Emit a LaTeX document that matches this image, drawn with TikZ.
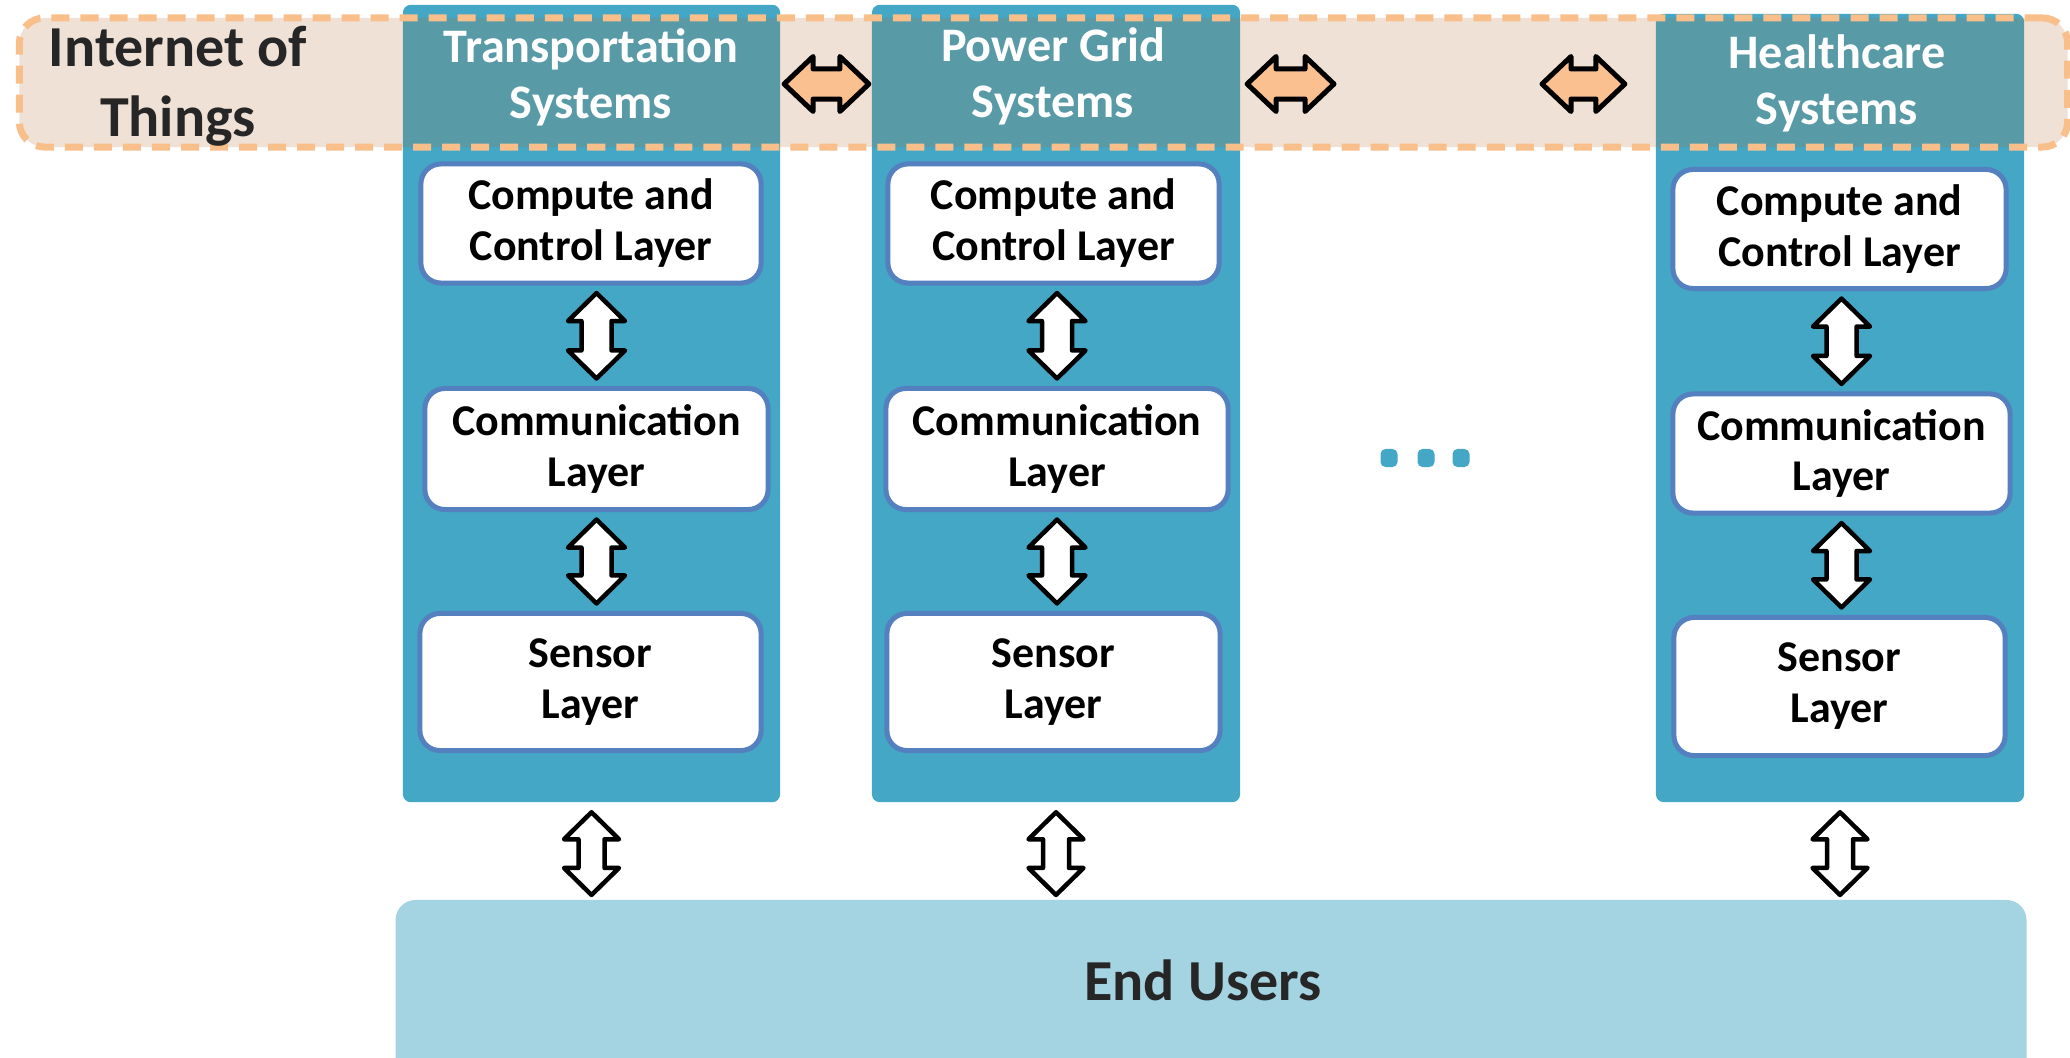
\documentclass[tikz,border=0pt]{standalone}
\usepackage{fontspec}
\setmainfont{Carlito}
\usetikzlibrary{calc}
\definecolor{colblue}{RGB}{67,167,197}
\definecolor{bandtint}{RGB}{175,105,45}
\definecolor{bandline}{RGB}{249,191,139}
\definecolor{boxline}{RGB}{84,128,192}
\definecolor{userfill}{RGB}{164,211,225}
\definecolor{arroworange}{RGB}{250,192,143}
\definecolor{darktext}{RGB}{38,38,38}
\tikzset{
  column/.style={fill=colblue, rounded corners=0.08cm, inner sep=0pt, outer sep=0pt},
  iotband/.style={fill=bandtint, fill opacity=0.2, draw=bandline, draw opacity=1,
    line width=0.07cm, dash pattern=on 0.18cm off 0.11cm, rounded corners=0.25cm,
    inner sep=0pt, outer sep=0pt},
  layerbox/.style={fill=white, draw=boxline, line width=0.05cm, rounded corners=0.2cm,
    inner sep=0pt, outer sep=0pt, align=center, text=black,
    font=\fontsize{12.5}{14.5}\selectfont\bfseries},
  header/.style={text=white, align=center, inner sep=0pt,
    font=\fontsize{13.7}{15.9}\selectfont\bfseries},
  iottext/.style={text=darktext, align=center, inner sep=0pt,
    font=\fontsize{16.5}{19.9}\selectfont\bfseries},
  users/.style={fill=userfill, rounded corners=0.2cm, inner sep=0pt, outer sep=0pt,
    text=darktext, font=\fontsize{16.5}{19.9}\selectfont\bfseries,
    text height=0.21cm, text depth=0cm},
  whitearrow/.style={fill=white, draw=black, line width=0.045cm, line join=round},
  orangearrow/.style={fill=arroworange, draw=black, line width=0.05cm, line join=round},
  dotmark/.style={fill=colblue, rounded corners=0.05cm, inner sep=0pt,
    minimum width=0.17cm, minimum height=0.18cm},
}
% vertical double block arrow: style, x-reference, top tip, bottom tip, half width, half shaft, head length
\newcommand\vdarrow[7]{%
  \draw[#1] let \p1=#2, \p2=#3, \p3=#4 in
    (\x1,\y2) -- (\x1+#5,\y2-#7) -- (\x1+#6,\y2-#7) -- (\x1+#6,\y3+#7) --
    (\x1+#5,\y3+#7) -- (\x1,\y3) -- (\x1-#5,\y3+#7) -- (\x1-#6,\y3+#7) --
    (\x1-#6,\y2-#7) -- (\x1-#5,\y2-#7) -- cycle;}
% horizontal double block arrow: style, y-reference, left tip, right tip, half height, half shaft, head length
\newcommand\hdarrow[7]{%
  \draw[#1] let \p1=#2, \p2=#3, \p3=#4 in
    (\x2,\y1) -- (\x2+#7,\y1+#5) -- (\x2+#7,\y1+#6) -- (\x3-#7,\y1+#6) --
    (\x3-#7,\y1+#5) -- (\x3,\y1) -- (\x3-#7,\y1-#5) -- (\x3-#7,\y1-#6) --
    (\x2+#7,\y1-#6) -- (\x2+#7,\y1-#5) -- cycle;}
\begin{document}
\begin{tikzpicture}[x=0.01cm, y=-0.01cm]
\useasboundingbox (0,0) rectangle (2070,1058);
\clip (0,0) rectangle (2070,1058);

% columns
\node[column, minimum width=3.77cm, minimum height=7.97cm] (col1) at (591.5,403.5) {};
\node[column, minimum width=3.68cm, minimum height=7.97cm] (col2) at (1056,403.5) {};
\node[column, minimum width=3.68cm, minimum height=7.88cm] (col3) at (1840,408) {};

% IoT band
\node[iotband, minimum width=20.47cm, minimum height=1.29cm] (band) at (1043.5,82.5) {};
\node[iottext] (iot) at (178,86) {Internet of\\Things};

% headers
\node[header] (h1) at (591,77) {Transportation\\Systems};
\node[header] (h2) at (1053,76) {Power Grid\\Systems};
\node[header] (h3) at (1837,83) {Healthcare\\Systems};

% layer boxes
\node[layerbox, minimum width=3.40cm, minimum height=1.19cm] (c1a) at (591,223.5) {Compute and\\Control Layer};
\node[layerbox, minimum width=3.43cm, minimum height=1.21cm] (c1b) at (596.5,449) {Communication\\Layer};
\node[layerbox, minimum width=3.41cm, minimum height=1.37cm] (c1c) at (590.5,682) {Sensor\\Layer};

\node[layerbox, minimum width=3.31cm, minimum height=1.19cm] (c2a) at (1053.5,223.5) {Compute and\\Control Layer};
\node[layerbox, minimum width=3.42cm, minimum height=1.21cm] (c2b) at (1057,449) {Communication\\Layer};
\node[layerbox, minimum width=3.33cm, minimum height=1.37cm] (c2c) at (1053.5,682) {Sensor\\Layer};

\node[layerbox, minimum width=3.33cm, minimum height=1.19cm] (c3a) at (1839.5,229) {Compute and\\Control Layer};
\node[layerbox, minimum width=3.37cm, minimum height=1.19cm] (c3b) at (1841.5,453.5) {Communication\\Layer};
\node[layerbox, minimum width=3.31cm, minimum height=1.38cm] (c3c) at (1839.5,686.5) {Sensor\\Layer};

% end users
\node[users, minimum width=16.30cm, minimum height=1.80cm] (users) at (1211,990) {End Users\hspace*{0.16cm}};

% dots
\node[dotmark] (d1) at (1389,458) {};
\node[dotmark] (d2) at (1426,458) {};
\node[dotmark] (d3) at (1461,458) {};

% free ends of the orange arrows beside the dots
\coordinate (gapL) at (1334,84);
\coordinate (gapR) at (1542,84);

% arrows inside the columns
\vdarrow{whitearrow}{(c1b.center)}{([yshift=-0.1cm]c1a.south)}{([yshift=0.1cm]c1b.north)}{0.285cm}{0.15cm}{0.28cm}
\vdarrow{whitearrow}{(c1b.center)}{([yshift=-0.1cm]c1b.south)}{([yshift=0.1cm]c1c.north)}{0.285cm}{0.15cm}{0.28cm}
\vdarrow{whitearrow}{(c2b.center)}{([yshift=-0.1cm]c2a.south)}{([yshift=0.1cm]c2b.north)}{0.285cm}{0.15cm}{0.28cm}
\vdarrow{whitearrow}{(c2b.center)}{([yshift=-0.1cm]c2b.south)}{([yshift=0.1cm]c2c.north)}{0.285cm}{0.15cm}{0.28cm}
\vdarrow{whitearrow}{(c3b.center)}{([yshift=-0.1cm]c3a.south)}{([yshift=0.1cm]c3b.north)}{0.285cm}{0.15cm}{0.28cm}
\vdarrow{whitearrow}{(c3b.center)}{([yshift=-0.1cm]c3b.south)}{([yshift=0.1cm]c3c.north)}{0.285cm}{0.15cm}{0.28cm}

% arrows to end users
\vdarrow{whitearrow}{(col1.south)}{([yshift=-0.1cm]col1.south)}{([yshift=0.05cm]users.north)}{0.275cm}{0.13cm}{0.27cm}
\vdarrow{whitearrow}{(col2.south)}{([yshift=-0.1cm]col2.south)}{([yshift=0.05cm]users.north)}{0.275cm}{0.13cm}{0.27cm}
\vdarrow{whitearrow}{(col3.south)}{([yshift=-0.1cm]col3.south)}{([yshift=0.05cm]users.north)}{0.275cm}{0.13cm}{0.27cm}

% orange arrows between systems
\hdarrow{orangearrow}{(gapL)}{([xshift=0.04cm]col1.east)}{([xshift=-0.03cm]col2.west)}{0.275cm}{0.15cm}{0.29cm}
\hdarrow{orangearrow}{(gapL)}{([xshift=0.07cm]col2.east)}{(gapL)}{0.275cm}{0.15cm}{0.29cm}
\hdarrow{orangearrow}{(gapR)}{(gapR)}{([xshift=-0.31cm]col3.west)}{0.275cm}{0.15cm}{0.29cm}
\end{tikzpicture}
\end{document}
